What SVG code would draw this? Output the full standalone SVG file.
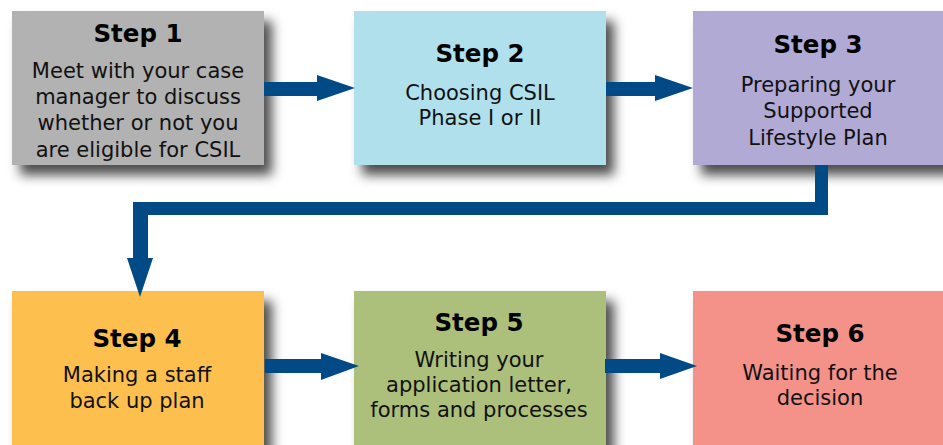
<svg xmlns="http://www.w3.org/2000/svg" width="943" height="445" viewBox="0 0 943 445">
<defs>
<filter id="sh" x="-20%" y="-20%" width="150%" height="160%">
<feDropShadow dx="8" dy="10" stdDeviation="6" flood-color="#000" flood-opacity="0.7"/>
</filter>
</defs>
<style>
.h{font-family:"DejaVu Sans","Liberation Sans",sans-serif;font-weight:bold;font-size:24.5px;fill:#000;text-anchor:middle}
.b{font-family:"DejaVu Sans","Liberation Sans",sans-serif;font-size:21px;fill:#111;text-anchor:middle}
.c{fill:#014a86}
</style>
<rect width="943" height="445" fill="#fff"/>
<g id="step1"><rect x="12" y="11" width="252" height="154" fill="#b2b2b2" filter="url(#sh)"/>
<text class="h" x="138" y="42">Step 1</text>
<text class="b" x="138" y="78">Meet with your case</text>
<text class="b" x="138" y="104">manager to discuss</text>
<text class="b" x="138" y="130">whether or not you</text>
<text class="b" x="138" y="157">are eligible for CSIL</text></g>
<g id="step2"><rect x="354" y="11" width="252" height="154" fill="#b0e0ec" filter="url(#sh)"/>
<text class="h" x="480" y="62">Step 2</text>
<text class="b" x="480" y="100">Choosing CSIL</text>
<text class="b" x="480" y="125">Phase I or II</text></g>
<g id="step3"><rect x="693" y="11" width="262" height="154" fill="#b1aad5" filter="url(#sh)"/>
<text class="h" x="818" y="53">Step 3</text>
<text class="b" x="818" y="92">Preparing your</text>
<text class="b" x="818" y="118">Supported</text>
<text class="b" x="818" y="145">Lifestyle Plan</text></g>
<g id="step4"><rect x="12" y="291" width="252" height="170" fill="#fdc04f" filter="url(#sh)"/>
<text class="h" x="137" y="347">Step 4</text>
<text class="b" x="137" y="382">Making a staff</text>
<text class="b" x="137" y="408">back up plan</text></g>
<g id="step5"><rect x="354" y="291" width="252" height="170" fill="#acc07b" filter="url(#sh)"/>
<text class="h" x="479" y="331">Step 5</text>
<text class="b" x="479" y="367">Writing your</text>
<text class="b" x="479" y="392">application letter,</text>
<text class="b" x="479" y="417">forms and processes</text></g>
<g id="step6"><rect x="693" y="291" width="262" height="170" fill="#f4928a" filter="url(#sh)"/>
<text class="h" x="820" y="342">Step 6</text>
<text class="b" x="820" y="380">Waiting for the</text>
<text class="b" x="820" y="405">decision</text></g>
<g id="connectors">
<polygon class="c" points="264,82 317,82 317,75 355,88 317,101 317,96 264,96"/>
<polygon class="c" points="606,82 655,82 655,75 693,88 655,101 655,96 606,96"/>
<polygon class="c" points="815,165 828,165 828,215 148,215 148,258 153,258 140,297 127,258 133,258 133,202 815,202"/>
<polygon class="c" points="265,359 321,359 321,353 359,366 321,380 321,373 265,373"/>
<polygon class="c" points="605,359 660,359 660,353 697,366 660,379 660,373 605,373"/>
</g>
</svg>
